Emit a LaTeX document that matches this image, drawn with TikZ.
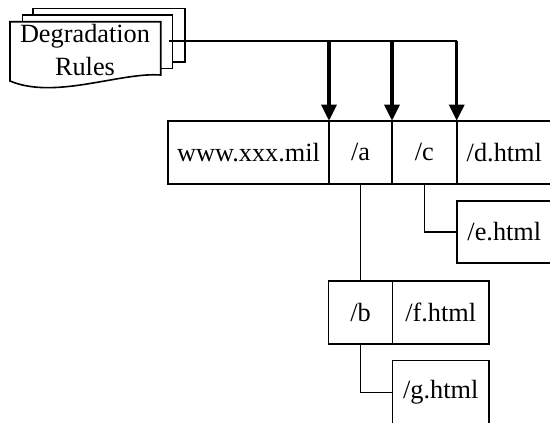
\documentclass[tikz,border=0pt]{standalone}
\usepackage{fontspec}
\setmainfont{Liberation Serif}
\usetikzlibrary{arrows.meta}
\begin{document}
\begin{tikzpicture}[x=1pt,y=-1pt,
  txt/.style={font=\fontsize{26.3}{33}\selectfont},
  cell/.style={txt,draw,line width=1.6pt,inner sep=0pt,outer sep=0pt,minimum height=63.3pt},
  wire/.style={line width=1.6pt},
  arr/.style={line width=3.2pt,-{Triangle[length=16pt,width=15pt]}}]
\useasboundingbox (0,0) rectangle (550,423);
\clip (0,0) rectangle (550,423);
% document stack
\draw[wire,fill=white] (33,8.3) rectangle (185,61.7);
\draw[wire,fill=white] (22.3,15) rectangle (172.3,68.3);
\draw[wire,fill=white] (10,21.7) -- (160.7,21.7) -- (160.7,75)
  .. controls (120,72) and (55,100) .. (10,81) -- cycle;
\node[txt,align=center,inner sep=0pt] (rules) at (85,50) {Degradation\\Rules};
\coordinate (src) at (169,40.7);
% cells
\node[cell,minimum width=161pt] (www) at (248.5,152.35) {www.xxx.mil};
\node[cell,minimum width=63pt] (a) at (360.5,152.35) {/a};
\node[cell,minimum width=64.7pt] (c) at (424.35,152.35) {/c};
\node[cell,minimum width=95.3pt] (d) at (504.35,152.35) {/d.html};
\node[cell,minimum width=95.3pt,minimum height=62pt] (e) at (504.35,232) {/e.html};
\node[cell,minimum width=64pt] (b) at (360.5,312.35) {/b};
\node[cell,minimum width=96.4pt] (f) at (440.7,312.35) {/f.html};
\node[cell,minimum width=96.4pt] (g) at (440.7,392.3) {/g.html};
% connectors
\draw[wire] (src) -- (d.north west |- src);
\foreach \n in {a,c,d} {\draw[arr] (\n.north west |- src) -- (\n.north west);}
\draw[wire] (a.south) -- (b.north);
\draw[wire] (c.south) |- (e.west);
\draw[wire] (b.south) |- (g.west);
\end{tikzpicture}
\end{document}
